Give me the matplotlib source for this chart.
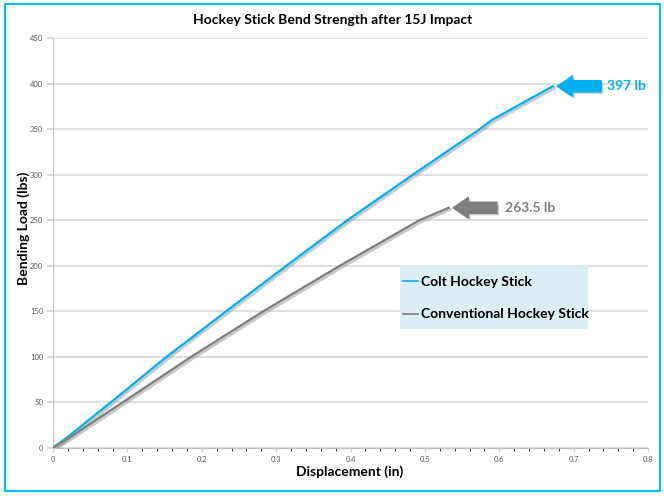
import numpy as np
import matplotlib
matplotlib.use('Agg')
import matplotlib.pyplot as plt
import matplotlib.patheffects as pe
from matplotlib.patches import Rectangle

plt.rcParams['font.family'] = ['Lato', 'DejaVu Sans']

# data
colt_x = [0, 0.02, 0.078, 0.153, 0.233, 0.314, 0.396, 0.484, 0.574, 0.59, 0.672]
colt_y = [0, 12, 50, 100, 150, 200, 250, 300, 350, 360, 397]
conv_x = [0, 0.02, 0.094, 0.186, 0.283, 0.386, 0.493, 0.532]
conv_y = [0, 10, 50, 100, 150, 200, 250, 263.5]
colt_label = 'Colt Hockey Stick'
conv_label = 'Conventional Hockey Stick'
colt_max = '397 lb'
conv_max = '263.5 lb'

blue = '#00b0f0'
grey = '#7f7f7f'

W, H = 664, 496
x0, x1, y0, y1 = 53, 648, 447.7, 38


def ax_frac(px, py):
    # pixel position in the picture -> axes fraction
    return (px - x0) / (x1 - x0), (y0 - py) / (y0 - y1)


fig = plt.figure(figsize=(6.64, 4.96), dpi=100)
ax = fig.add_axes([x0/W, 1-y0/H, (x1-x0)/W, (y0-y1)/H])

shadow = [pe.SimpleLineShadow(offset=(1.2, -1.2), shadow_color='#a0a0a0', alpha=0.55, linewidth=2.2), pe.Normal()]
ax.plot(colt_x, colt_y, color=blue, lw=1.6, label=colt_label, path_effects=shadow, zorder=3)
ax.plot(conv_x, conv_y, color=grey, lw=1.6, label=conv_label, path_effects=shadow, zorder=3)

ax.set_xlim(0, 0.8)
ax.set_ylim(0, 450)
ax.set_xticks(np.arange(0, 0.81, 0.1))
ax.set_xticklabels(['0', '0.1', '0.2', '0.3', '0.4', '0.5', '0.6', '0.7', '0.8'])
ax.set_xticks(np.arange(0, 0.81, 0.02), minor=True)
ax.set_yticks(np.arange(0, 451, 50))
ax.yaxis.grid(True, color='#d9d9d9', lw=1.2)
ax.set_axisbelow(True)
for s in ['top', 'right']:
    ax.spines[s].set_visible(False)
for s in ['left', 'bottom']:
    ax.spines[s].set_color('#bfbfbf')
ax.tick_params(axis='both', labelsize=5.5, labelcolor='#595959', colors='#d0d0d0')
ax.tick_params(axis='y', length=4, width=1.2, pad=3)
ax.tick_params(axis='x', which='major', length=3, pad=3)
ax.tick_params(axis='x', which='minor', length=2)

ax.set_xlabel('Displacement (in)', fontsize=10, fontweight='bold')
ax.xaxis.set_label_coords(*ax_frac(350, 465))
ax.set_ylabel('Bending Load (lbs)', fontsize=10, fontweight='bold')
ax.yaxis.set_label_coords(*ax_frac(30, 228))
fig.text(333/W, 1-20/H, 'Hockey Stick Bend Strength after 15J Impact', ha='center', va='center',
         fontsize=10, fontweight='bold')

# legend box drawn by hand, legend itself frameless
bx, by = ax_frac(400, 329)
bx2, by2 = ax_frac(588, 265)
ax.add_patch(Rectangle((bx, by), bx2 - bx, by2 - by, transform=ax.transAxes,
                       fc='#dbeef4', ec='none', zorder=4))
leg = ax.legend(loc='upper left', bbox_to_anchor=ax_frac(403, 276), frameon=False,
                prop={'weight': 'bold', 'size': 10}, handlelength=1.1, handletextpad=0.2,
                labelspacing=1.47, borderpad=0, borderaxespad=0)
leg.set_zorder(5)
for h in leg.get_lines():
    h.set_path_effects([])
    h.set_linewidth(1.2)

arr_shadow = [pe.SimplePatchShadow(offset=(1.5, -1.5), shadow_rgbFace='#999999', alpha=0.5), pe.Normal()]
ax.annotate('', xy=(0.678, 397), xytext=(0.737, 397),
            arrowprops=dict(arrowstyle='simple,head_length=1.1,head_width=1.5,tail_width=0.8',
                            mutation_scale=10, fc=blue, ec=blue, shrinkA=0, shrinkB=0,
                            path_effects=arr_shadow))
ax.text(0.745, 397, colt_max, color=blue, fontsize=10, fontweight='bold', va='center', clip_on=False)
ax.annotate('', xy=(0.538, 263.5), xytext=(0.597, 263.5),
            arrowprops=dict(arrowstyle='simple,head_length=1.1,head_width=1.5,tail_width=0.8',
                            mutation_scale=10, fc=grey, ec=grey, shrinkA=0, shrinkB=0,
                            path_effects=arr_shadow))
ax.text(0.608, 263.5, conv_max, color=grey, fontsize=10, fontweight='bold', va='center')

fig.patches.append(Rectangle((5/W, 1-491/H), 655/W, 487/H, transform=fig.transFigure,
                             fill=False, ec='#00c0f0', lw=1.5))

fig.savefig('out.png', dpi=100)
